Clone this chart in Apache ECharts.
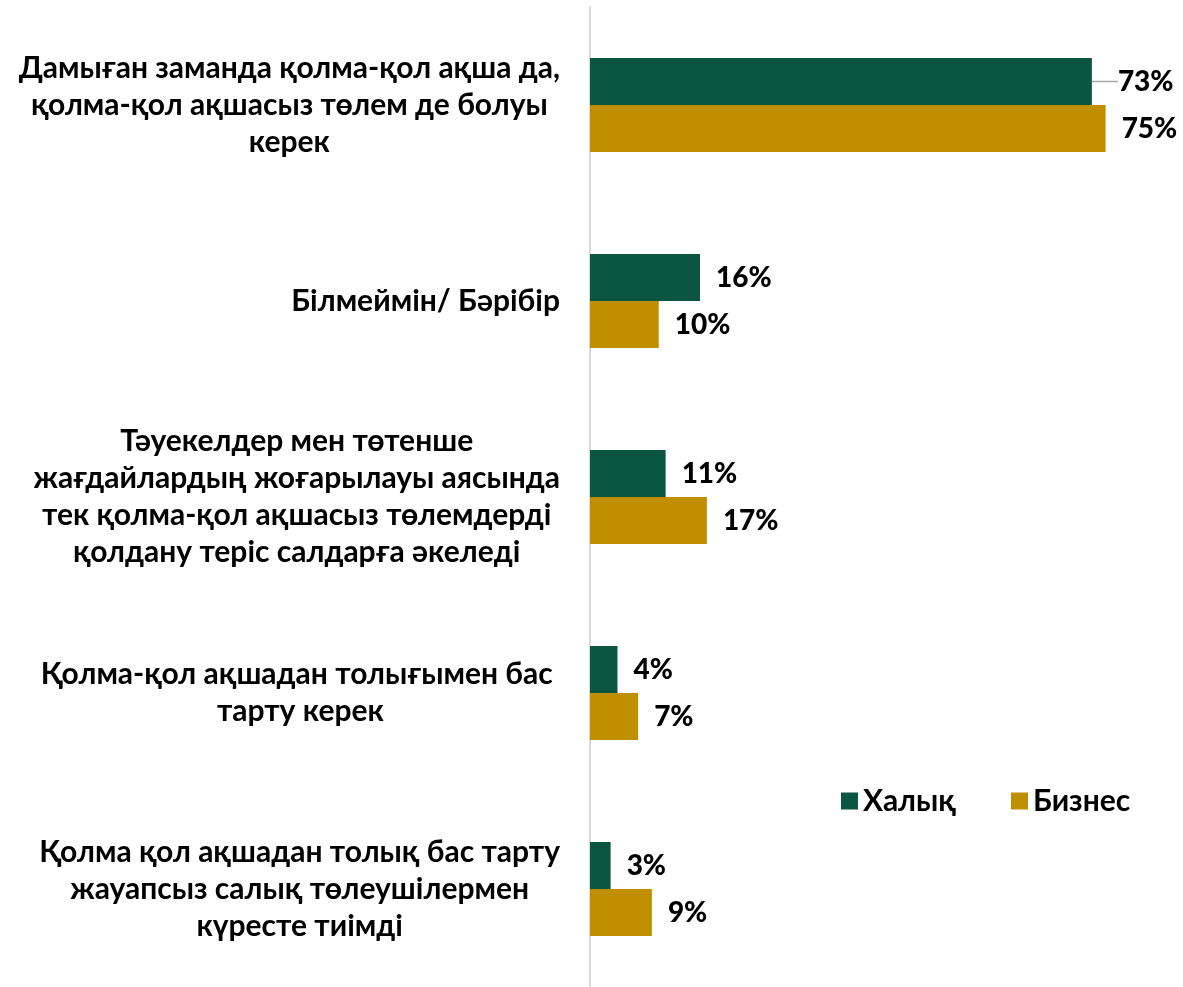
<!DOCTYPE html>
<html>
<head>
<meta charset="utf-8">
<script src="https://cdn.jsdelivr.net/npm/echarts@6/dist/echarts.min.js"></script>
<style>
html,body{margin:0;padding:0;background:#fff;}
#chart{width:1183px;height:987px;}
</style>
</head>
<body>
<div id="chart"></div>
<script>
const categories = [
  "Дамыған заманда қолма-қол ақша да,\nқолма-қол ақшасыз төлем де болуы\nкерек",
  "Білмеймін/ Бәрібір",
  "Тәуекелдер мен төтенше\nжағдайлардың жоғарылауы аясында\nтек қолма-қол ақшасыз төлемдерді\nқолдану теріс салдарға әкеледі",
  "Қолма-қол ақшадан толығымен бас \nтарту керек",
  "Қолма қол ақшадан толық бас тарту\nжауапсыз салық төлеушілермен\nкүресте тиімді"
];
const seriesNames = ["Халық", "Бизнес"];
const halyk = [73, 16, 11, 4, 3];
const biznes = [75, 10, 17, 7, 9];

const FONT = 'Lato, "Noto Sans", sans-serif';
const chart = echarts.init(document.getElementById('chart'));
const labelStyle = {
  show: true, position: 'right', distance: 16,
  formatter: '{c}%', color: '#000', fontFamily: FONT, fontWeight: 900, fontSize: 28
};
// first Халық label is pulled right with a leader line, as in the source chart
const halykData = halyk.map(function (v, i) {
  return i === 0
    ? { value: v, labelLine: { show: true, lineStyle: { color: '#a6a6a6', width: 1.5 } } }
    : { value: v, labelLine: { show: false } };
});
chart.setOption({
  animation: false,
  color: ['#0B5640', '#BF8F00'],
  legend: {
    data: seriesNames,
    left: 836, top: 781,
    itemWidth: 17, itemHeight: 17, itemGap: 55,
    icon: 'rect',
    textStyle: { fontFamily: FONT, fontWeight: 'bold', fontSize: 30, color: '#000' }
  },
  grid: { left: 590, top: 7, height: 984, right: 43, containLabel: false },
  xAxis: {
    type: 'value', min: 0, max: 80,
    axisLine: { show: false }, axisTick: { show: false },
    axisLabel: { show: false }, splitLine: { show: false }
  },
  yAxis: {
    type: 'category', inverse: true, data: categories,
    axisLine: { show: true, lineStyle: { color: '#d9d9d9', width: 2 } },
    axisTick: { show: false },
    axisLabel: {
      margin: 30, align: 'right',
      formatter: function (v) {
        return v.split('\n').map(function (l) { return '{c|' + l + '}'; }).join('\n');
      },
      rich: {
        c: { align: 'center', fontFamily: FONT, fontWeight: 'bold', fontSize: 30, lineHeight: 37, color: '#000' }
      }
    }
  },
  series: [
    {
      name: seriesNames[0], type: 'bar', data: halykData, barWidth: 47, barGap: '0%',
      label: labelStyle,
      labelLayout: function (p) { return p.dataIndex === 0 ? { dx: 10 } : {}; }
    },
    {
      name: seriesNames[1], type: 'bar', data: biznes, barWidth: 47, barGap: '0%',
      label: labelStyle
    }
  ]
});
</script>
</body>
</html>
